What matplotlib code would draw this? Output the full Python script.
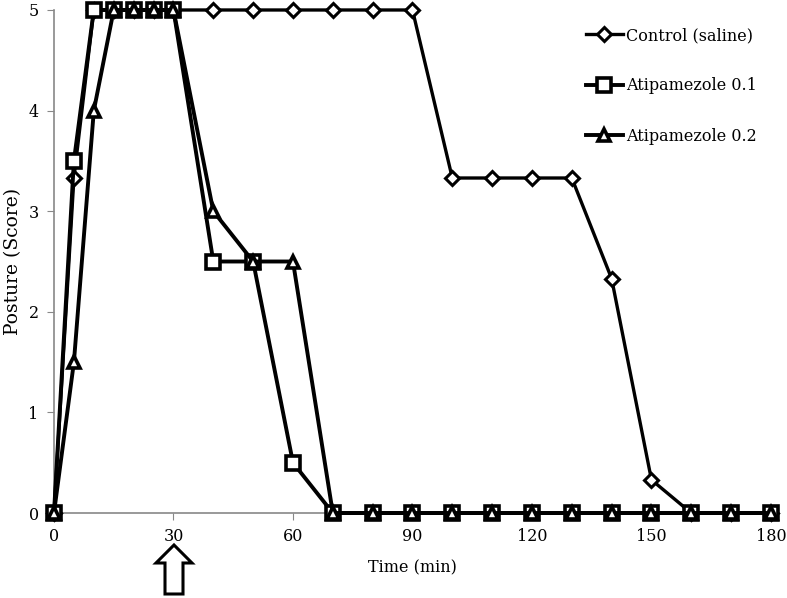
import matplotlib
matplotlib.use("Agg")
import matplotlib.pyplot as plt
from matplotlib.patches import Polygon

plt.rcParams['font.family'] = ['DejaVu Serif']

time_min = [0, 5, 10, 15, 20, 25, 30, 40, 50, 60, 70, 80, 90, 100, 110, 120, 130, 140, 150, 160, 170, 180]
control = [0, 3.33, 5, 5, 5, 5, 5, 5, 5, 5, 5, 5, 5, 3.33, 3.33, 3.33, 3.33, 2.33, 0.33, 0, 0, 0]
atip_01 = [0, 3.5, 5, 5, 5, 5, 5, 2.5, 2.5, 0.5, 0, 0, 0, 0, 0, 0, 0, 0, 0, 0, 0, 0]
atip_02 = [0, 1.5, 4, 5, 5, 5, 5, 3, 2.5, 2.5, 0, 0, 0, 0, 0, 0, 0, 0, 0, 0, 0, 0]
labels = ["Control (saline)", "Atipamezole 0.1", "Atipamezole 0.2"]
x_ticks = [0, 30, 60, 90, 120, 150, 180]
y_ticks = [0, 1, 2, 3, 4, 5]

fig = plt.figure(figsize=(7.87, 5.98), dpi=100)
ax = fig.add_axes([0.0686, 0.1421, 0.911, 0.8412])

ax.plot(time_min, control, color='black', lw=2.4, marker='D', ms=7,
        mfc='white', mec='black', mew=2.2, clip_on=False, zorder=3, label=labels[0])
ax.plot(time_min, atip_01, color='black', lw=2.8, marker='s', ms=10,
        mfc='white', mec='black', mew=2.6, clip_on=False, zorder=4, label=labels[1])
ax.plot(time_min, atip_02, color='black', lw=2.8, marker='^', ms=9,
        mfc='white', mec='black', mew=2.6, clip_on=False, zorder=5, label=labels[2])

ax.set_xlim(0, 180)
ax.set_ylim(0, 5)
ax.set_xticks(x_ticks)
ax.set_yticks(y_ticks)
for s in ['top', 'right']:
    ax.spines[s].set_visible(False)
for s in ['left', 'bottom']:
    ax.spines[s].set_color('#888888')
    ax.spines[s].set_linewidth(1.2)
ax.tick_params(direction='out', length=5, color='#888888', labelsize=11.5, pad=6)

ax.set_xlabel("Time (min)", fontsize=11.5, labelpad=10)
ax.set_ylabel("Posture (Score)", fontsize=13.5)
ax.yaxis.set_label_coords(-0.044, 0.5)

leg = ax.legend(loc='upper left', bbox_to_anchor=(0.722, 0.995), frameon=False,
                fontsize=11.5, labelspacing=2.1, handlelength=2.3, handletextpad=0.2)

# hollow arrow under the 30 min tick
arrow_pts = [(174, 545), (192, 563), (183, 563), (183, 594), (165, 594), (165, 563), (156, 563)]
arrow = Polygon([(x / 787, 1 - y / 598) for x, y in arrow_pts], closed=True,
                transform=fig.transFigure, facecolor='white', edgecolor='black', lw=2.2)
fig.patches.append(arrow)

fig.savefig("out.png", dpi=100)
